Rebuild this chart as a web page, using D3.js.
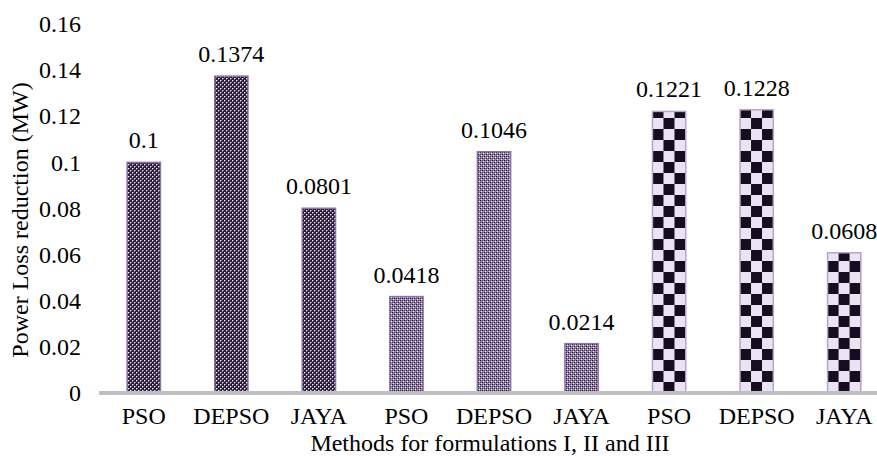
<!DOCTYPE html>
<html>
<head>
<meta charset="utf-8">
<script src="https://cdn.jsdelivr.net/npm/d3@7"></script>
<style>
  html, body { margin: 0; padding: 0; background: #fff; }
  svg { display: block; }
  svg text { font-family: "Liberation Serif", "Times New Roman", serif !important; fill: #000; }
</style>
</head>
<body>
<svg id="chart" width="877" height="456"></svg>
<script>
// Power loss reduction per method, for formulations I, II and III
const methods = ["PSO", "DEPSO", "JAYA", "PSO", "DEPSO", "JAYA", "PSO", "DEPSO", "JAYA"];
const values = [0.1, 0.1374, 0.0801, 0.0418, 0.1046, 0.0214, 0.1221, 0.1228, 0.0608];
const valueLabels = ["0.1", "0.1374", "0.0801", "0.0418", "0.1046", "0.0214", "0.1221", "0.1228", "0.0608"];
const formulation = [1, 1, 1, 2, 2, 2, 3, 3, 3];
const yTicks = [0, 0.02, 0.04, 0.06, 0.08, 0.1, 0.12, 0.14, 0.16];
const yTickLabels = ["0", "0.02", "0.04", "0.06", "0.08", "0.1", "0.12", "0.14", "0.16"];

const svg = d3.select("#chart");
const defs = svg.append("defs");
const FS = 24;

const margin = { left: 100, right: -11, top: 24, bottom: 63 };
const width = 877, height = 456;

const x = d3.scaleBand()
  .domain(d3.range(methods.length))
  .range([margin.left, width - margin.right])
  .paddingInner(0.62)
  .paddingOuter(0.31);

const y = d3.scaleLinear()
  .domain([0, 0.16])
  .range([height - margin.bottom, margin.top]);

// Fine diamond-grid fill for formulation I
(function () {
  const p = defs.append("pattern").attr("id", "fill-1")
    .attr("patternUnits", "userSpaceOnUse").attr("width", 4).attr("height", 4);
  p.append("rect").attr("width", 4).attr("height", 4).attr("fill", "#2a1e35");
  [[0, 0], [2, 2]].forEach(([a, b]) =>
    p.append("rect").attr("x", a).attr("y", b).attr("width", 1).attr("height", 1).attr("fill", "#eee8f3"));
  [[1, 0], [0, 1], [3, 2], [2, 3]].forEach(([a, b]) =>
    p.append("rect").attr("x", a).attr("y", b).attr("width", 1).attr("height", 1).attr("fill", "#8a76a0"));
})();

// Lighter fine check for formulation II
(function () {
  const p = defs.append("pattern").attr("id", "fill-2")
    .attr("patternUnits", "userSpaceOnUse").attr("width", 4).attr("height", 4);
  p.append("rect").attr("width", 4).attr("height", 4).attr("fill", "#9684aa");
  [[0, 0], [2, 2]].forEach(([a, b]) =>
    p.append("rect").attr("x", a).attr("y", b).attr("width", 1).attr("height", 1).attr("fill", "#1c1224"));
  [[1, 3], [3, 1]].forEach(([a, b]) =>
    p.append("rect").attr("x", a).attr("y", b).attr("width", 1).attr("height", 1).attr("fill", "#f2eef6"));
  [[0, 2], [2, 0]].forEach(([a, b]) =>
    p.append("rect").attr("x", a).attr("y", b).attr("width", 1).attr("height", 1).attr("fill", "#3e3050"));
})();

// Large checkerboard for formulation III, anchored to each bar's corner
const cell = 11;
values.forEach((v, i) => {
  if (formulation[i] !== 3) return;
  const p = defs.append("pattern").attr("id", "fill-3-" + i)
    .attr("patternUnits", "userSpaceOnUse")
    .attr("x", x(i)).attr("y", y(0))
    .attr("width", 2 * cell).attr("height", 2 * cell);
  p.append("rect").attr("width", 2 * cell).attr("height", 2 * cell).attr("fill", "#ebe3f2");
  p.append("rect").attr("x", 0).attr("y", 0).attr("width", cell).attr("height", cell).attr("fill", "#170c20");
  p.append("rect").attr("x", cell).attr("y", cell).attr("width", cell).attr("height", cell).attr("fill", "#170c20");
});

// Bars
svg.append("g").selectAll("rect")
  .data(values)
  .join("rect")
  .attr("x", (d, i) => x(i))
  .attr("y", d => y(d))
  .attr("width", x.bandwidth())
  .attr("height", d => y(0) - y(d))
  .attr("fill", (d, i) => formulation[i] === 3 ? `url(#fill-3-${i})` : `url(#fill-${formulation[i]})`)
  .attr("stroke", (d, i) => formulation[i] === 3 ? "#b7a3cb" : "#8c73a6")
  .attr("stroke-width", 1.5);

// Value labels
svg.append("g").selectAll("text")
  .data(values)
  .join("text")
  .attr("x", (d, i) => x(i) + x.bandwidth() / 2)
  .attr("y", d => y(d) - 14)
  .attr("text-anchor", "middle")
  .attr("font-size", FS)
  .text((d, i) => valueLabels[i]);

// Y axis (labels only)
const yAxis = d3.axisLeft(y)
  .tickValues(yTicks)
  .tickFormat((d, i) => yTickLabels[i])
  .tickSize(0)
  .tickPadding(0);
const yg = svg.append("g")
  .attr("transform", `translate(${81},0)`)
  .call(yAxis);
yg.select(".domain").remove();
yg.attr("font-size", FS);

// X axis
const xAxis = d3.axisBottom(x)
  .tickFormat(i => methods[i])
  .tickSize(0)
  .tickPadding(14);
const xg = svg.append("g")
  .attr("transform", `translate(0,${y(0)})`)
  .call(xAxis);
xg.select(".domain").remove();
xg.attr("font-size", FS);

// Baseline
svg.append("line")
  .attr("x1", 99).attr("x2", width)
  .attr("y1", y(0)).attr("y2", y(0))
  .attr("stroke", "#bfbfbf")
  .attr("stroke-width", 4);

// Axis titles
svg.append("text")
  .attr("x", 490).attr("y", 451)
  .attr("text-anchor", "middle")
  .attr("font-size", FS)
  .text("Methods for formulations I, II and III");

svg.append("text")
  .attr("transform", `translate(28,${220}) rotate(-90)`)
  .attr("text-anchor", "middle")
  .attr("font-size", FS)
  .text("Power Loss reduction (MW)");
</script>
</body>
</html>
